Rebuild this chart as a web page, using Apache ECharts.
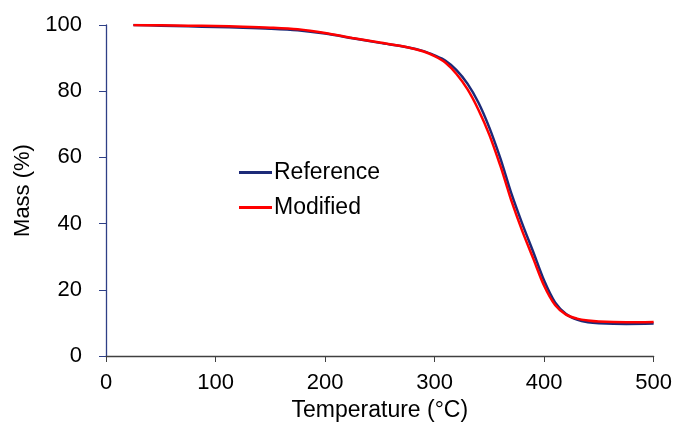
<!DOCTYPE html>
<html>
<head>
<meta charset="utf-8">
<script src="https://cdn.jsdelivr.net/npm/echarts@6/dist/echarts.min.js"></script>
<style>
  html, body { margin: 0; padding: 0; background: #fff; }
  #chart { width: 675px; height: 431px; }
</style>
</head>
<body>
<div id="chart"></div>
<script>
// temperature (°C) and mass (%)
const temps = [25, 50, 75, 100, 125, 150, 175, 200, 225, 250, 275, 290, 300, 310, 320, 330, 340, 350, 360, 365, 370, 380, 390, 400, 410, 420, 430, 440, 450, 475, 500];
const referenceMass = [100, 99.8, 99.6, 99.4, 99.2, 98.9, 98.4, 97.4, 96, 94.6, 93.3, 92.1, 90.8, 89.2, 86.4, 82.3, 76.6, 69, 59.8, 54.5, 49.2, 40, 31.5, 22.8, 16.2, 12.7, 11, 10.2, 9.9, 9.7, 9.8];
const modifiedMass = [100, 99.9, 99.8, 99.7, 99.5, 99.2, 98.7, 97.6, 96.1, 94.7, 93.3, 92, 90.6, 88.6, 85.2, 80.6, 74.4, 66.8, 57.5, 52.3, 47, 37.8, 29.5, 21.2, 15.4, 12.5, 11.3, 10.7, 10.4, 10.2, 10.3];
const seriesNames = ['Reference', 'Modified'];

const pairs = (xs, ys) => xs.map((x, i) => [x, ys[i]]);
const font = 'Liberation Sans, Arial, sans-serif';

let myChart = echarts.init(document.getElementById('chart'));

let option = {
    animation: false,
    grid: { left: 106, right: 20, top: 25, bottom: 75 },
    legend: {
        data: seriesNames,
        orient: 'vertical',
        left: 234,
        top: 156,
        itemGap: 12,
        itemWidth: 33,
        itemHeight: 3,
        icon: 'rect',
        textStyle: { fontFamily: font, fontSize: 23, color: '#000', padding: [0, 0, 0, -3] }
    },
    xAxis: {
        type: 'value',
        min: 0, max: 500, interval: 100,
        name: 'Temperature (°C)',
        nameLocation: 'middle',
        nameGap: 42,
        nameTextStyle: { fontFamily: font, fontSize: 23, color: '#000' },
        axisLine: { lineStyle: { color: '#404040', width: 1.3 } },
        axisTick: { show: true, length: 6, lineStyle: { color: '#404040' } },
        axisLabel: { fontFamily: font, fontSize: 22, color: '#000', margin: 16 },
        splitLine: { show: false }
    },
    yAxis: {
        type: 'value',
        min: 0, max: 100, interval: 20,
        name: 'Mass (%)',
        nameLocation: 'middle',
        nameGap: 65,
        nameTextStyle: { fontFamily: font, fontSize: 22, color: '#000' },
        axisLine: { show: true, lineStyle: { color: '#2e3f86', width: 1.3 } },
        axisTick: { show: true, length: 7, lineStyle: { color: '#2e3f86' } },
        axisLabel: { fontFamily: font, fontSize: 22, color: '#000', margin: 24 },
        splitLine: { show: false }
    },
    series: [
        {
            name: seriesNames[0],
            type: 'line',
            data: pairs(temps, referenceMass),
            showSymbol: false,
            symbol: 'none',
            smooth: 0.3,
            lineStyle: { color: '#1c2a78', width: 2.5 },
            itemStyle: { color: '#1c2a78' }
        },
        {
            name: seriesNames[1],
            type: 'line',
            data: pairs(temps, modifiedMass),
            showSymbol: false,
            symbol: 'none',
            smooth: 0.3,
            lineStyle: { color: '#ff0000', width: 2.5 },
            itemStyle: { color: '#ff0000' }
        }
    ]
};

myChart.setOption(option);
</script>
</body>
</html>
